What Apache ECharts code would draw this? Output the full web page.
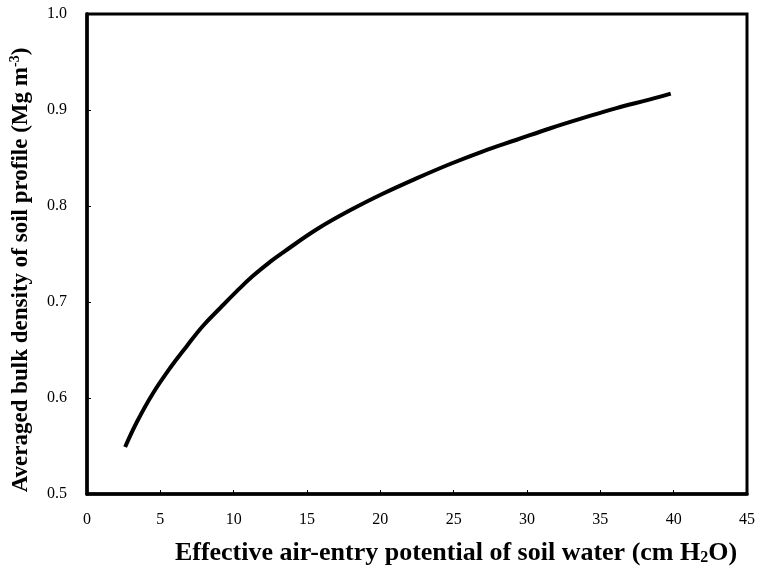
<!DOCTYPE html>
<html><head><meta charset="utf-8">
<script src="https://cdn.jsdelivr.net/npm/echarts@6/dist/echarts.min.js"></script>
<style>html,body{margin:0;padding:0;background:#fff}#c{width:758px;height:571px}</style>
</head><body><div id="c"></div>
<script>
const potential = [2.6, 3.4, 4.5, 5.7, 6.8, 7.9, 9.1, 10.2, 11.3, 12.5, 13.4, 15.7, 18.0, 20.2, 22.5, 24.8, 27.0, 29.3, 31.6, 33.9, 36.1, 38.4, 39.8];
const density   = [0.549, 0.575, 0.605, 0.632, 0.654, 0.675, 0.694, 0.711, 0.727, 0.742, 0.752, 0.776, 0.796, 0.813, 0.829, 0.844, 0.857, 0.869, 0.881, 0.892, 0.902, 0.911, 0.917];
const xTicks = {min: 0, max: 45, interval: 5};
const yTicks = {min: 0.5, max: 1.0, interval: 0.1};

const chart = echarts.init(document.getElementById('c'));
const font = '"Liberation Serif", "Times New Roman", serif';
chart.setOption({
  animation: false,
  grid: {left: 86, top: 14, right: 11, bottom: 77, show: true, borderColor: '#000', borderWidth: 3, backgroundColor: 'transparent'},
  xAxis: {
    type: 'value', min: xTicks.min, max: xTicks.max, interval: xTicks.interval,
    axisLine: {show: true, lineStyle: {color: '#000', width: 3.5}},
    axisTick: {show: true, inside: true, length: 4, lineStyle: {color: '#000', width: 1}},
    splitLine: {show: false},
    axisLabel: {color: '#000', fontFamily: font, fontSize: 16, margin: 18},
    name: '{b|Effective air-entry potential of soil water (cm H}{sub|2}{b|O)}',
    nameLocation: 'middle', nameGap: 46,
    nameTextStyle: {padding: [0, 0, 0, 78], rich: {
      b: {fontFamily: font, fontWeight: 'bold', fontSize: 26, color: '#000'},
      sub: {fontFamily: font, fontWeight: 'bold', fontSize: 16, color: '#000', padding: [10, 0, 0, 0]}
    }}
  },
  yAxis: {
    type: 'value', min: yTicks.min, max: yTicks.max, interval: yTicks.interval,
    axisLine: {show: true, lineStyle: {color: '#000', width: 3.5}},
    axisTick: {show: true, inside: true, length: 4, lineStyle: {color: '#000', width: 1}},
    splitLine: {show: false},
    axisLabel: {color: '#000', fontFamily: font, fontSize: 16, margin: 20, formatter: v => v.toFixed(1)},
    name: '{b|Averaged bulk density of soil profile (Mg m}{sup|-3}{b|)}',
    nameLocation: 'middle', nameGap: 53, nameRotate: 90,
    nameTextStyle: {padding: [0, 32, 0, 0], rich: {
      b: {fontFamily: font, fontWeight: 'bold', fontSize: 23, color: '#000'},
      sup: {fontFamily: font, fontWeight: 'bold', fontSize: 14, color: '#000', padding: [0, 0, 12, 0]}
    }}
  },
  series: [{
    type: 'line', smooth: 0.4, showSymbol: false,
    data: potential.map((x, i) => [x, density[i]]),
    lineStyle: {color: '#000', width: 4}
  }]
});
</script></body></html>
